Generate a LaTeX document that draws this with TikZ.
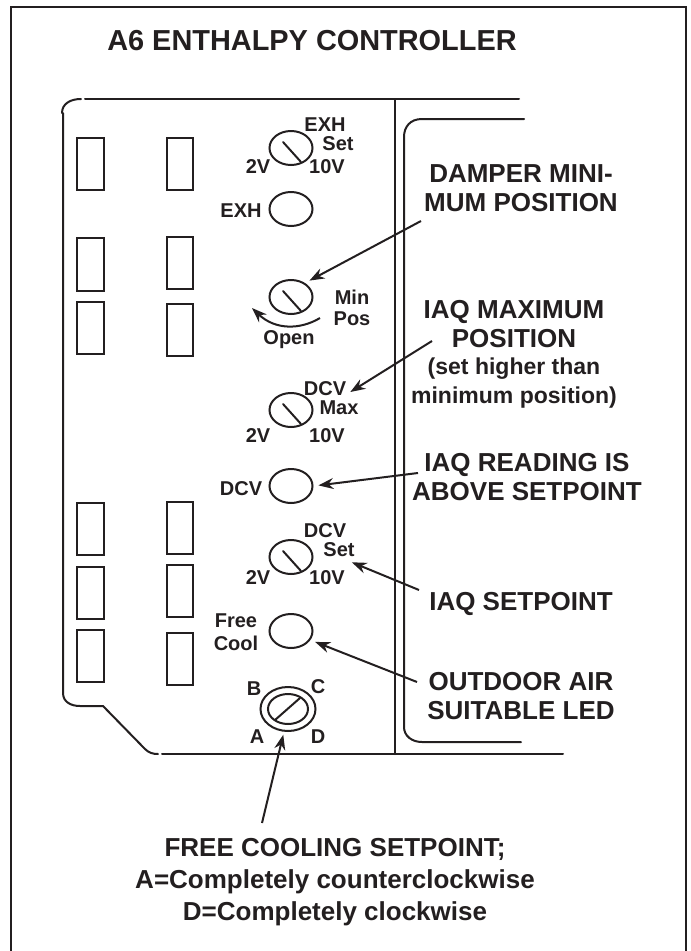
\documentclass[tikz,border=0pt]{standalone}
\usepackage{fontspec}
\setmainfont{Liberation Sans}
\usetikzlibrary{arrows.meta,shapes.geometric}
\definecolor{inkblack}{HTML}{231F20}

\begin{document}
\begin{tikzpicture}[x=1pt,y=-1pt,>={Stealth[length=15pt,width=11pt]},color=inkblack,
    board/.style={line width=2pt,line cap=round},
    dial/.style={draw,ellipse,line width=2pt,minimum width=43pt,minimum height=34pt,inner sep=0pt},
    tag/.style={inner sep=0pt,font=\fontsize{20}{22}\bfseries\selectfont,align=center},
    callout/.style={inner sep=0pt,font=\fontsize{26}{28.5}\bfseries\selectfont,align=center},
    pointer/.style={->,line width=2pt,shorten >=5pt}]
  \useasboundingbox (0,0) rectangle (691,951);
  % outer frame, open at the foot of the page
  \draw[line width=2.8pt] (11,951) -- (11,7) -- (686,7) -- (686,951);
  \node[callout,font=\fontsize{28.9}{32}\bfseries\selectfont] (title) at (312,41) {A6 ENTHALPY CONTROLLER};

  % board outline
  \draw[board] (85,99) -- (519,99);
  \draw[board] (81,99) .. controls (70,99) and (62,104) .. (62,113);
  \draw[board] (63,113) -- (63,693) .. controls (63,702) and (71,706) .. (80,706) -- (103,706)
    -- (145,749) .. controls (149,753) and (153,754) .. (158,754);
  \draw[board] (162,754) -- (563,754);
  \draw[board] (395,99) -- (395,754);
  \draw[board] (524,119) -- (422,119) .. controls (410,119) and (404,127) .. (404,137)
    -- (404,727) .. controls (404,736) and (412,742) .. (422,742) -- (521,742);

  % terminal blocks
  \foreach \ya/\yb in {138/190,238/291,302/354,503/555,567/619,630/682}
    \draw[board] (77,\ya) rectangle (104,\yb);
  \foreach \ya/\yb in {138/190,237/289,304/356,502/554,565/617,633/685}
    \draw[board] (167,\ya) rectangle (193,\yb);

  % pots and leds
  \foreach \name/\y in {exhdial/148,mindial/297,maxdial/410,setdial/557} {
    \node[dial] (\name) at (291,\y) {};
    \draw[board] (283,\y-6) -- (301,\y+14);
  }
  \node[dial] (exhled) at (291,209) {};
  \node[dial] (dcvled) at (291,486) {};
  \node[dial] (freeled) at (291,631) {};
  \node[dial,minimum width=55pt,minimum height=44pt] (freedial) at (288,709) {};
  \node[dial,minimum width=40pt,minimum height=30pt] (freeinner) at (288,709) {};
  \draw[board] (275,720) -- (300,698);

  % labels on the pots
  \node[tag] (exhname) at (325,125) {EXH};
  \node[tag] (exhset) at (338,144) {Set};
  \node[tag] (exhlow) at (258,167) {2V};
  \node[tag] (exhhigh) at (327,167) {10V};
  \node[tag] (exhtag) at (241,211) {EXH};
  \node[tag] (mintag) at (352,297) {Min};
  \node[tag] (postag) at (352,319) {Pos};
  \node[tag] (opentag) at (289,340) {Open};
  \node[tag] (maxname) at (325,389) {DCV};
  \node[tag] (maxtag) at (339,408) {Max};
  \node[tag] (maxlow) at (258,436) {2V};
  \node[tag] (maxhigh) at (327,436) {10V};
  \node[tag] (dcvtag) at (241,489) {DCV};
  \node[tag] (setname) at (325,531) {DCV};
  \node[tag] (settag) at (339,550) {Set};
  \node[tag] (setlow) at (258,578) {2V};
  \node[tag] (sethigh) at (327,578) {10V};
  \node[tag] (freetag) at (236,621) {Free};
  \node[tag] (cooltag) at (236,643) {Cool};
  \node[tag] (posb) at (254,689) {B};
  \node[tag] (posc) at (318,687) {C};
  \node[tag] (posa) at (257,737) {A};
  \node[tag] (posd) at (318,737) {D};

  % callouts
  \node[callout] (dampertext) at (521,188) {DAMPER MINI-\\MUM POSITION};
  \node[callout] (iaqmaxtext) at (514,324) {IAQ MAXIMUM\\POSITION};
  \node[callout,font=\fontsize{23}{28.5}\bfseries\selectfont] (iaqnote) at (514,383) {(set higher than\\minimum position)};
  \node[callout] (readtext) at (527,477) {IAQ READING IS\\ABOVE SETPOINT};
  \node[callout] (setpointtext) at (521,604) {IAQ SETPOINT};
  \node[callout] (outdoortext) at (521,696) {OUTDOOR AIR\\SUITABLE LED};
  \node[callout,font=\fontsize{26}{32}\bfseries\selectfont] (freetext) at (335,882) {FREE COOLING SETPOINT;\\A=Completely counterclockwise\\D=Completely clockwise};

  % pointers
  \coordinate (damperfoot) at (421,221);
  \coordinate (iaqmaxfoot) at (432,341);
  \coordinate (readfoot) at (418,473);
  \coordinate (setpointfoot) at (419,590);
  \coordinate (outdoorfoot) at (417,682);
  \coordinate (freefoot) at (262,823);
  \coordinate (openstart) at (320,318);
  \coordinate (opentip) at (252,308);
  \draw[pointer] (damperfoot) -- (mindial.45);
  \draw[pointer,shorten >=0pt] (iaqmaxfoot) -- ([shift={(4,3)}]maxname.east);
  \draw[pointer] (readfoot) -- (dcvled.east);
  \draw[pointer,shorten >=0pt] (setpointfoot) -- ([shift={(-3,5)}]settag.south east);
  \draw[pointer] (outdoorfoot) -- (freeled.-25);
  \draw[pointer,shorten >=3pt] (freefoot) -- (freedial.260);
  \draw[pointer,shorten >=0pt] (openstart) .. controls (300,330) and (275,330) .. (opentip);
\end{tikzpicture}
\end{document}
